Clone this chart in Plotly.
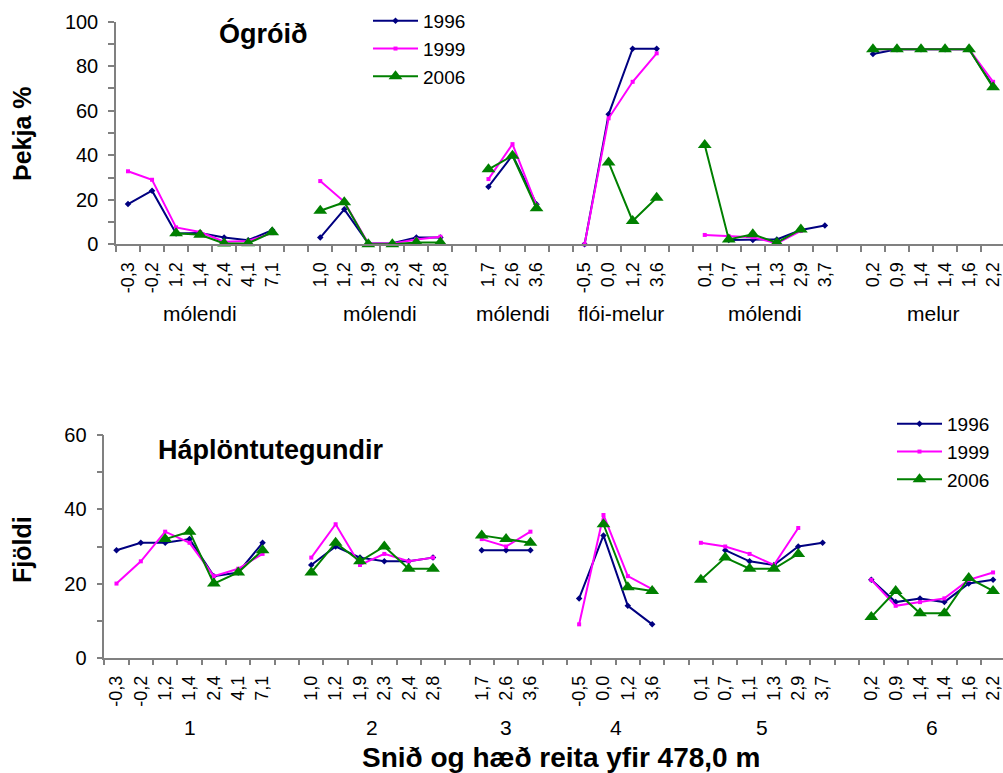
import plotly.graph_objects as go

# ---------------- data ----------------
group_names_top = ["mólendi", "mólendi", "mólendi", "flói-melur", "mólendi", "melur"]
group_names_bottom = ["1", "2", "3", "4", "5", "6"]

heights = [
    ["-0,3", "-0,2", "1,2", "1,4", "2,4", "4,1", "7,1"],
    ["1,0", "1,2", "1,9", "2,3", "2,4", "2,8"],
    ["1,7", "2,6", "3,6"],
    ["-0,5", "0,0", "1,2", "3,6"],
    ["0,1", "0,7", "1,1", "1,3", "2,9", "3,7"],
    ["0,2", "0,9", "1,4", "1,4", "1,6", "2,2"],
]

# Þekja % (ógróið)
cover_1996 = [
    [18.1, 24.1, 4.9, 5.1, 3.1, 1.8, 6.4],
    [3.0, 15.7, 0.4, 0.5, 3.1, 3.0],
    [25.9, 40.0, 18.0],
    [0.0, 58.4, 87.9, 87.9],
    [None, 1.9, 1.9, 2.2, 6.4, 8.4],
    [85.5, 87.6, 87.6, 87.6, 87.6, 71.0],
]
cover_1999 = [
    [32.8, 29.0, 7.6, 5.5, 1.2, 1.5, 5.0],
    [28.4, 19.1, 0.4, 0.4, 2.2, 3.4],
    [29.3, 45.0, 17.5],
    [0.0, 56.6, 73.0, 85.8],
    [4.2, 3.6, 3.2, 0.4, 6.0, None],
    [87.6, 87.6, 87.6, 87.6, 87.6, 73.0],
]
cover_2006 = [
    [None, None, 5.0, 4.3, 0.4, 0.5, 5.4],
    [15.1, 18.9, 0.0, 0.0, 0.8, 0.8],
    [33.7, 39.8, 16.2],
    [None, 36.8, 10.5, 20.9],
    [44.6, 2.2, 4.5, 0.7, 6.7, None],
    [87.6, 87.6, 87.6, 87.6, 87.6, 70.5],
]

# Fjöldi háplöntutegunda
count_1996 = [
    [29, 31, 31, 32, 22, 23, 31],
    [25, 30, 27, 26, 26, 27],
    [29, 29, 29],
    [16, 33, 14, 9],
    [None, 29, 26, 25, 30, 31],
    [21, 15, 16, 15, 20, 21],
]
count_1999 = [
    [20, 26, 34, 31, 22, 24, 28],
    [27, 36, 25, 28, 26, 27],
    [32, 30, 34],
    [9, 38.5, 22, 18.5],
    [31, 30, 28, 25, 35, None],
    [21, 14, 15, 16, 21, 23],
]
count_2006 = [
    [None, None, 32, 34, 20, 23, 29],
    [23, 31, 26, 30, 24, 24],
    [33, 32, 31],
    [None, 36, 19, 18],
    [21, 27, 24, 24, 28, None],
    [11, 18, 12, 12, 21.5, 18],
]

years = ["1996", "1999", "2006"]

# ---------------- helpers ----------------
# categories laid out with one empty slot between groups
positions = []
pos = 0
for g in heights:
    positions.append(list(range(pos, pos + len(g))))
    pos += len(g) + 1

tickvals = [p for grp in positions for p in grp]
ticktext = [h for grp in heights for h in grp]
group_centers = [sum(grp) / len(grp) for grp in positions]


def flatten(series):
    xs, ys = [], []
    for grp_pos, grp_vals in zip(positions, series):
        xs.extend(grp_pos)
        ys.extend(grp_vals)
        xs.append(grp_pos[-1] + 0.5)
        ys.append(None)  # break line between groups
    return xs, ys


W, H = 1003, 773
FONT = "Liberation Sans, Arial, sans-serif"
AXIS_GREY = "#808080"

styles = {
    "1996": dict(color="#000080", symbol="diamond", size=5),
    "1999": dict(color="#FF00FF", symbol="square", size=4),
    "2006": dict(color="#008000", symbol="triangle-up", size=12),
}

fig = go.Figure()

for yr, ser in zip(years, [cover_1996, cover_1999, cover_2006]):
    xs, ys = flatten(ser)
    st = styles[yr]
    fig.add_trace(go.Scatter(
        x=xs, y=ys, name=yr, mode="lines+markers", connectgaps=False,
        line=dict(color=st["color"], width=2),
        marker=dict(color=st["color"], symbol=st["symbol"], size=st["size"], line=dict(width=0)),
        xaxis="x", yaxis="y", legend="legend", cliponaxis=False,
    ))

for yr, ser in zip(years, [count_1996, count_1999, count_2006]):
    xs, ys = flatten(ser)
    st = styles[yr]
    fig.add_trace(go.Scatter(
        x=xs, y=ys, name=yr, mode="lines+markers", connectgaps=False,
        line=dict(color=st["color"], width=2),
        marker=dict(color=st["color"], symbol=st["symbol"], size=st["size"], line=dict(width=0)),
        xaxis="x2", yaxis="y2", legend="legend2", cliponaxis=False,
    ))

# pixel geometry
top_left, top_y0, top_y100 = 116, 244.3, 21.7
top_slot = 24.03
bot_left, bot_y0, bot_y60 = 104.3, 657.7, 435.3
bot_slot = 24.35


def xaxis_common(left_px, slot):
    return dict(
        domain=[left_px / W, 1],
        range=[-0.5, -0.5 + (W - left_px) / slot],
        automargin=False, ticklabeloverflow="allow",
        tickmode="array", tickvals=tickvals, ticktext=ticktext,
        tickangle=-90, ticks="", ticklabelstandoff=9,
        tickfont=dict(family=FONT, size=18, color="black"),
        showline=True, linecolor=AXIS_GREY, linewidth=1.5,
        showgrid=False, zeroline=False,
        minor=dict(tickmode="linear", tick0=-0.5, dtick=1, ticks="outside",
                   ticklen=6, tickwidth=1.5, tickcolor=AXIS_GREY, showgrid=False),
    )


def yaxis_common(top_px, bottom_px, rng):
    return dict(
        domain=[1 - bottom_px / H, 1 - top_px / H],
        range=rng, tickmode="linear", tick0=0, dtick=20,
        automargin=False,
        ticks="outside", ticklen=6, tickwidth=1.5, tickcolor=AXIS_GREY,
        ticklabelstandoff=6,
        tickfont=dict(family=FONT, size=20, color="black"),
        showline=True, linecolor=AXIS_GREY, linewidth=1.5,
        showgrid=False, zeroline=False,
        minor=dict(tickmode="linear", tick0=0, dtick=10, ticks="outside",
                   ticklen=6, tickwidth=1.5, tickcolor=AXIS_GREY, showgrid=False),
    )


xa1 = xaxis_common(top_left, top_slot); xa1["anchor"] = "y"
xa2 = xaxis_common(bot_left, bot_slot); xa2["anchor"] = "y2"
ya1 = yaxis_common(top_y100, top_y0, [0, 100]); ya1["anchor"] = "x"
ya2 = yaxis_common(bot_y60, bot_y0, [0, 60]); ya2["anchor"] = "x2"

annotations = []


def ann(text, x, y, size, angle=0, xref="paper"):
    annotations.append(dict(text=text, x=x, y=y, xref=xref, yref="paper",
                            xanchor="center", yanchor="middle", showarrow=False,
                            textangle=angle,
                            font=dict(family=FONT, size=size, color="black")))


ann("<b>Ógróið</b>", 263 / W, 1 - 33 / H, 27)
ann("<b>Háplöntutegundir</b>", 270 / W, 1 - 450 / H, 27)
ann("<b>Þekja %</b>", 22 / W, 1 - 134 / H, 25, -90)
ann("<b>Fjöldi</b>", 22 / W, 1 - 550 / H, 25, -90)
ann("<b>Snið og hæð reita yfir 478,0 m</b>", 561 / W, 1 - 757 / H, 28)

for name, cx in zip(group_names_top, group_centers):
    ann(name, cx, 1 - 313 / H, 21, xref="x")
for name, cx in zip(group_names_bottom, group_centers):
    ann(name, cx, 1 - 727 / H, 21, xref="x2")

legend_style = dict(font=dict(family=FONT, size=19, color="black"),
                    bgcolor="rgba(0,0,0,0)", borderwidth=0, itemwidth=45,
                    xanchor="left", yanchor="top", tracegroupgap=0)

fig.update_layout(
    width=W, height=H,
    margin=dict(l=0, r=0, t=0, b=0, autoexpand=False),
    paper_bgcolor="white", plot_bgcolor="white",
    xaxis=xa1, yaxis=ya1, xaxis2=xa2, yaxis2=ya2,
    annotations=annotations,
    legend=dict(x=368 / W, y=1 - 2 / H, **legend_style),
    legend2=dict(x=892 / W, y=1 - 405 / H, **legend_style),
    font=dict(family=FONT),
)

fig.write_html("out.html")
